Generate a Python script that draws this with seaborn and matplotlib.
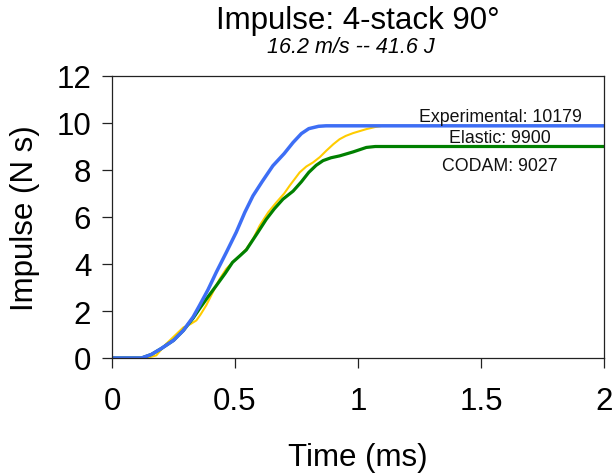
import numpy as np
import pandas as pd
import matplotlib
matplotlib.use("Agg")
import matplotlib.pyplot as plt
import seaborn as sns

# ---- data ----
exp_t = [0, 0.12, 0.16, 0.20, 0.25, 0.29, 0.33, 0.356, 0.39, 0.424, 0.465, 0.505, 0.54, 0.573,
         0.61, 0.654, 0.70, 0.736, 0.77, 0.80, 0.84, 0.87, 2.0]
exp_v = [0, 0.0, 0.15, 0.40, 0.75, 1.17, 1.75, 2.24, 2.90, 3.65, 4.50, 5.35, 6.20, 6.90,
         7.50, 8.18, 8.70, 9.17, 9.55, 9.76, 9.86, 9.88, 9.88]

codam_t = [0, 0.12, 0.16, 0.20, 0.25, 0.29, 0.33, 0.356, 0.39, 0.424, 0.46, 0.49, 0.52, 0.546,
           0.59, 0.627, 0.66, 0.695, 0.736, 0.77, 0.80, 0.83, 0.858, 0.89, 0.925, 0.98, 1.034,
           1.07, 2.0]
codam_v = [0, 0.0, 0.15, 0.40, 0.75, 1.17, 1.70, 2.10, 2.60, 3.08, 3.60, 4.07, 4.35, 4.60,
           5.30, 5.90, 6.35, 6.76, 7.10, 7.50, 7.90, 8.20, 8.40, 8.52, 8.60, 8.77, 8.96,
           9.00, 9.00]

elastic_t = [0, 0.14, 0.18, 0.22, 0.26, 0.29, 0.32, 0.343, 0.36, 0.383, 0.41, 0.438, 0.465,
             0.49, 0.52, 0.546, 0.575, 0.60, 0.635, 0.668, 0.70, 0.722, 0.763, 0.79, 0.817,
             0.845, 0.871, 0.90, 0.925, 0.95, 0.98, 1.034, 1.07, 1.10, 2.0]
elastic_v = [0, 0.0, 0.11, 0.60, 1.00, 1.30, 1.45, 1.60, 1.85, 2.24, 2.80, 3.37, 3.80,
             4.07, 4.35, 4.64, 5.10, 5.63, 6.20, 6.62, 7.00, 7.33, 7.90, 8.15, 8.32,
             8.55, 8.82, 9.10, 9.31, 9.45, 9.57, 9.74, 9.83, 9.88, 9.88]

series_names = ["Elastic", "CODAM", "Experimental"]
labels = ["Experimental: 10179", "Elastic: 9900", "CODAM: 9027"]
label_y = [10.26, 9.40, 8.20]
x_ticks = [0, 0.5, 1, 1.5, 2]
x_tick_labels = ["0", "0.5", "1", "1.5", "2"]
y_ticks = [0, 2, 4, 6, 8, 10, 12]

df = pd.concat([
    pd.DataFrame({"Time": elastic_t, "Impulse": elastic_v, "Series": "Elastic"}),
    pd.DataFrame({"Time": codam_t, "Impulse": codam_v, "Series": "CODAM"}),
    pd.DataFrame({"Time": exp_t, "Impulse": exp_v, "Series": "Experimental"}),
], ignore_index=True)

sns.set_style("ticks")
plt.rcParams["font.family"] = ["Liberation Sans", "DejaVu Sans"]
plt.rcParams["text.color"] = "black"
plt.rcParams["axes.labelcolor"] = "black"

fig = plt.figure(figsize=(6.14, 4.77), dpi=100)
ax = fig.add_axes([112 / 614, 1 - 359 / 477, (604 - 112) / 614, (359 - 77) / 477])

colors = {"Elastic": "#FFCC00", "CODAM": "#008000", "Experimental": "#3D6EF5"}
widths = {"Elastic": 1.5, "CODAM": 2.3, "Experimental": 2.5}
for name in series_names:
    sub = df[df["Series"] == name]
    sns.lineplot(data=sub, x="Time", y="Impulse", ax=ax, color=colors[name],
                 linewidth=widths[name], sort=False, estimator=None, legend=False)

ax.set_xlim(0, 2)
ax.set_ylim(0, 12)
ax.set_xticks(x_ticks)
ax.set_xticklabels(x_tick_labels)
ax.set_yticks(y_ticks)
ax.tick_params(axis="both", direction="out", length=7, width=0.9, labelsize=22.5,
               colors="#222222", labelcolor="black")
ax.tick_params(axis="x", pad=13)
ax.tick_params(axis="y", pad=8)
for sp in ax.spines.values():
    sp.set_linewidth(0.9)
    sp.set_color("#222222")
    sp.set_visible(True)

ax.set_xlabel("Time (ms)", fontsize=22.5, labelpad=19)
ax.set_ylabel("Impulse (N s)", fontsize=22.5, labelpad=12)

for txt, yv in zip(labels, label_y):
    ax.text(1.577, yv, txt, ha="center", va="center", fontsize=12.8, color="#111111")

fig.text(358 / 614, 1 - 29 / 477, "Impulse: 4-stack 90°", ha="center", va="baseline",
         fontsize=22.5, color="black")
fig.text(351 / 614, 1 - 53 / 477, "16.2 m/s -- 41.6 J", ha="center", va="baseline",
         fontsize=15.5, style="italic", color="black")

fig.savefig("out.png", dpi=100)
